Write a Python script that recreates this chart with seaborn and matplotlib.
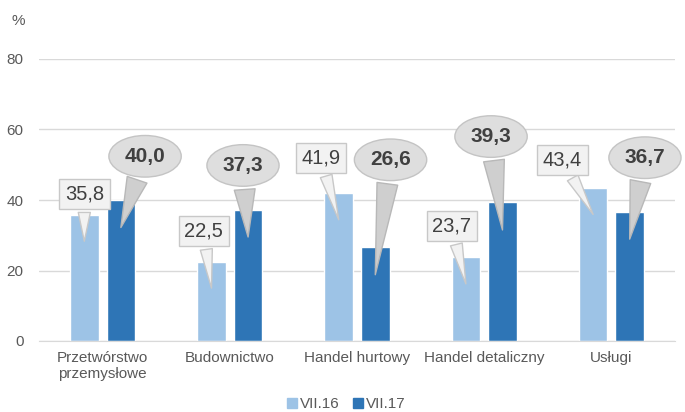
import pandas as pd
import matplotlib
matplotlib.use('Agg')
import matplotlib.pyplot as plt
import seaborn as sns
from matplotlib.lines import Line2D

# data
categories = ['Przetwórstwo\nprzemysłowe', 'Budownictwo', 'Handel hurtowy',
              'Handel detaliczny', 'Usługi']
series = ['VII.16', 'VII.17']
vii16 = [35.8, 22.5, 41.9, 23.7, 43.4]
vii17 = [40.0, 37.3, 26.6, 39.3, 36.7]

# callout placement (x offset from bar centre, y of label) - layout only
lab16_dx = [0.0, -0.06, -0.14, -0.11, -0.24]
lab16_y = [41.7, 31.2, 52.0, 32.6, 51.4]
lab17_dx = [0.19, -0.04, 0.12, -0.09, 0.12]
lab17_y = [52.4, 49.8, 51.4, 58.0, 52.0]

LIGHT = '#9DC3E6'
DARK = '#2E75B6'
TXT = '#595959'

sns.set_style('white')
plt.rcParams['font.family'] = ['Liberation Sans', 'DejaVu Sans']

df = pd.DataFrame({
    'cat': categories * 2,
    'val': vii16 + vii17,
    'series': [series[0]] * 5 + [series[1]] * 5,
})

fig = plt.figure(figsize=(6.85, 4.12), dpi=100)
ax = fig.add_axes([39 / 685, 1 - 341 / 412, 636 / 685, 282 / 412])

width = 0.575
sns.barplot(data=df, x='cat', y='val', hue='series', palette=[LIGHT, DARK],
            width=width, gap=0.22, ax=ax, legend=False, saturation=1)

ax.set_ylim(0, 80)
ax.set_xlim(-0.5, 4.5)
ax.set_yticks([0, 20, 40, 60, 80])
ax.yaxis.grid(True, color='#d9d9d9', lw=1)
ax.set_axisbelow(True)
for s in ['top', 'right', 'left']:
    ax.spines[s].set_visible(False)
ax.spines['bottom'].set_color('#d9d9d9')
ax.tick_params(axis='both', length=0, labelsize=11, colors=TXT)
ax.tick_params(axis='y', pad=11)
ax.tick_params(axis='x', pad=7)
ax.set_xlabel('')
ax.set_ylabel('')
ax.text(18 / 685, 1 - 21 / 412, '%', transform=fig.transFigure,
        fontsize=11, color=TXT, ha='center', va='center')

off = width / 4
for i in range(len(categories)):
    # VII.16 - rectangular callouts
    x = i - off
    ax.annotate(f'{vii16[i]:.1f}'.replace('.', ','),
                xy=(x, vii16[i] - 7.5), xytext=(x + lab16_dx[i], lab16_y[i]),
                ha='center', va='center', fontsize=14.5, color='#404040',
                bbox=dict(boxstyle='square,pad=0.28', fc='#f2f2f2', ec='#c8c8c8', lw=1),
                arrowprops=dict(arrowstyle='wedge,tail_width=0.6,shrink_factor=0.5',
                                fc='#f2f2f2', ec='#c8c8c8', lw=1, shrinkB=0))
    # VII.17 - oval callouts
    x = i + off
    ax.annotate(f'{vii17[i]:.1f}'.replace('.', ','),
                xy=(x, vii17[i] - 7.8), xytext=(x + lab17_dx[i], lab17_y[i]),
                ha='center', va='center', fontsize=15, color='#404040',
                fontweight='bold',
                bbox=dict(boxstyle='ellipse,pad=0.25', fc='#dedede', ec='#c4c4c4', lw=1),
                arrowprops=dict(arrowstyle='wedge,tail_width=1.0,shrink_factor=0.5',
                                fc='#cfcfcf', ec='#b8b8b8', lw=1, shrinkB=0))

handles = [Line2D([], [], marker='s', ls='', color=c, markersize=7) for c in [LIGHT, DARK]]
fig.legend(handles, series, loc='center', bbox_to_anchor=(0.506, 1 - 404 / 412),
           ncol=2, frameon=False, fontsize=11, labelcolor=TXT,
           handlelength=0.6, handletextpad=0.2, columnspacing=0.9)

fig.savefig('out.png', dpi=100)
